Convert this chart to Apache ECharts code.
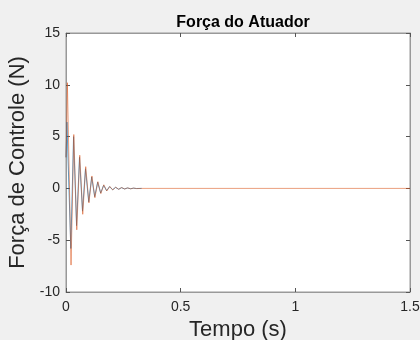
<!DOCTYPE html>
<html>
<head>
<meta charset="utf-8">
<script src="https://cdn.jsdelivr.net/npm/echarts@6/dist/echarts.min.js"></script>
<style>
  html, body { margin: 0; padding: 0; background: #f0f0f0; }
  #chart { width: 420px; height: 340px; }
</style>
</head>
<body>
<div id="chart"></div>
<script>
// tempo (s) e força (N), picos e vales
var tBlue = [0, 0.002, 0.004, 0.021, 0.033, 0.046, 0.059, 0.072, 0.085, 0.099, 0.112, 0.125, 0.138, 0.151, 0.164, 0.177, 0.190, 0.203, 0.216, 0.229, 0.242, 0.255, 0.268, 0.281, 0.294, 0.307, 0.33];
var fBlue = [3.0, 4.5, 6.4, -5.8, 5.0, -3.6, 3.0, -2.2, 1.9, -1.3, 1.1, -0.8, 0.6, -0.45, 0.3, -0.22, 0.17, -0.13, 0.1, -0.08, 0.07, -0.05, 0.04, -0.03, 0.02, -0.01, 0];

var tOrange = [0, 0.003, 0.006, 0.022, 0.034, 0.047, 0.060, 0.073, 0.086, 0.100, 0.113, 0.126, 0.139, 0.152, 0.165, 0.178, 0.191, 0.204, 0.217, 0.230, 0.243, 0.256, 0.269, 0.282, 0.295, 0.308, 0.33, 1.5];
var fOrange = [3.0, 6.0, 10.2, -7.4, 5.2, -4.0, 3.2, -2.5, 2.1, -1.4, 1.2, -0.9, 0.65, -0.5, 0.35, -0.25, 0.19, -0.15, 0.12, -0.09, 0.08, -0.06, 0.05, -0.04, 0.03, -0.02, 0, 0];

var xTicks = [0, 0.5, 1, 1.5];
var yTicks = [-10, -5, 0, 5, 10, 15];

var myChart = echarts.init(document.getElementById('chart'));

function pares(t, f) {
    var out = [];
    for (var i = 0; i < t.length; i++) {
        out.push([t[i], f[i]]);
    }
    return out;
}

var fonte = '"Liberation Sans", Arial, Helvetica, sans-serif';
var corTexto = '#262626';
var corEixo = '#999999';

var option = {
    backgroundColor: '#f0f0f0',
    animation: false,
    title: {
        text: 'Força do Atuador',
        left: 238,
        textAlign: 'center',
        top: 10,
        textStyle: { fontFamily: fonte, fontSize: 16, fontWeight: 'bold', color: '#000' }
    },
    grid: {
        left: 66, right: 10, top: 33, bottom: 48,
        containLabel: false,
        outerBoundsMode: 'none',
        show: true,
        backgroundColor: '#ffffff',
        borderColor: corEixo,
        borderWidth: 1
    },
    xAxis: [
        {
            type: 'value',
            min: xTicks[0],
            max: xTicks[xTicks.length - 1],
            interval: 0.5,
            name: 'Tempo (s)',
            nameLocation: 'middle',
            nameGap: 26,
            nameTextStyle: { fontFamily: fonte, fontSize: 22, color: corTexto },
            axisLine: { onZero: false, lineStyle: { color: corEixo } },
            axisTick: { inside: true, length: 4, lineStyle: { color: '#555' } },
            axisLabel: { fontFamily: fonte, fontSize: 14, color: corTexto, margin: 8 },
            splitLine: { show: false }
        },
        {
            type: 'value',
            position: 'top',
            min: xTicks[0],
            max: xTicks[xTicks.length - 1],
            interval: 0.5,
            axisLine: { onZero: false, lineStyle: { color: corEixo } },
            axisTick: { inside: true, length: 4, lineStyle: { color: '#555' } },
            axisLabel: { show: false },
            splitLine: { show: false }
        }
    ],
    yAxis: [
        {
            type: 'value',
            min: yTicks[0],
            max: yTicks[yTicks.length - 1],
            interval: 5,
            name: 'Força de Controle (N)',
            nameLocation: 'middle',
            nameGap: 31,
            nameTextStyle: { fontFamily: fonte, fontSize: 22, color: corTexto },
            axisLine: { show: true, onZero: false, lineStyle: { color: corEixo } },
            axisTick: { show: true, inside: true, length: 4, lineStyle: { color: '#555' } },
            axisLabel: { fontFamily: fonte, fontSize: 14, color: corTexto, margin: 6 },
            splitLine: { show: false }
        },
        {
            type: 'value',
            position: 'right',
            min: yTicks[0],
            max: yTicks[yTicks.length - 1],
            interval: 5,
            axisLine: { show: true, onZero: false, lineStyle: { color: corEixo } },
            axisTick: { show: true, inside: true, length: 4, lineStyle: { color: '#555' } },
            axisLabel: { show: false },
            splitLine: { show: false }
        }
    ],
    series: [
        {
            type: 'line',
            data: pares(tBlue, fBlue),
            showSymbol: false,
            lineStyle: { color: '#0072BD', width: 0.8, opacity: 0.85 },
            itemStyle: { color: '#0072BD' }
        },
        {
            type: 'line',
            data: pares(tOrange, fOrange),
            showSymbol: false,
            lineStyle: { color: '#D95319', width: 0.7, opacity: 0.8 },
            itemStyle: { color: '#D95319' }
        }
    ]
};

option && myChart.setOption(option);
</script>
</body>
</html>
